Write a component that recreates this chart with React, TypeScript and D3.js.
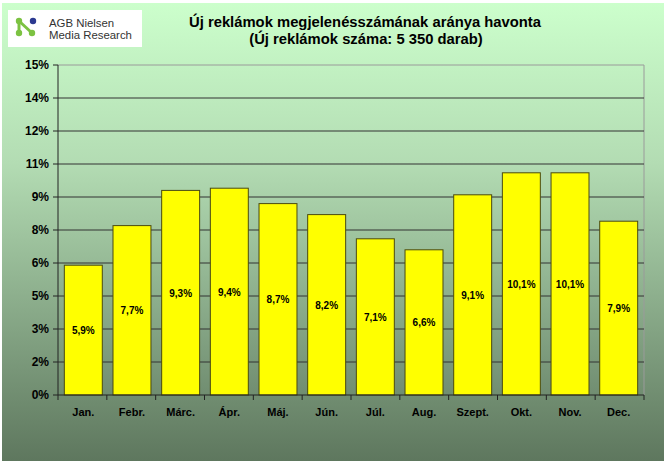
import * as d3 from 'd3'

const months = ['Jan.', 'Febr.', 'Márc.', 'Ápr.', 'Máj.', 'Jún.', 'Júl.', 'Aug.', 'Szept.', 'Okt.', 'Nov.', 'Dec.']
const shares = [5.9, 7.7, 9.3, 9.4, 8.7, 8.2, 7.1, 6.6, 9.1, 10.1, 10.1, 7.9]
const yTickValues = [0, 1.5, 3, 4.5, 6, 7.5, 9, 10.5, 12, 13.5, 15]
const yTickLabels = ['0%', '2%', '3%', '5%', '6%', '8%', '9%', '11%', '12%', '14%', '15%']

const W = 668
const H = 465
const plot = { left: 58, right: 644, top: 65, bottom: 395 }
const font = 'Arial, "Liberation Sans", sans-serif'

export default function App() {
  const x = d3
    .scaleBand<string>()
    .domain(months)
    .range([plot.left, plot.right])
    .paddingInner(0.22)
    .paddingOuter(0.13)
  const y = d3.scaleLinear().domain([0, 15]).range([plot.bottom, plot.top])
  const step = (plot.right - plot.left) / months.length

  return (
    <svg width={W} height={H} style={{ position: 'absolute', left: 0, top: 0 }} fontFamily={font}>
      <defs>
        <linearGradient id="bg" x1="0" y1="0" x2="0" y2="1">
          <stop offset="0" stopColor="#ccffcc" />
          <stop offset="0.35" stopColor="#b3dcb3" />
          <stop offset="1" stopColor="#5e775e" />
        </linearGradient>
      </defs>
      <rect width={W} height={H} fill="#fff" />
      <rect x={2} y={3} width={662} height={458} fill="url(#bg)" />

      {/* logo */}
      <rect x={8} y={10} width={134} height={37} fill="#fff" />
      <g>
        <line x1={19} y1={21} x2={32} y2={33} stroke="#7cc242" strokeWidth={3} />
        <line x1={19} y1={21} x2={19} y2={33} stroke="#7cc242" strokeWidth={3} />
        <circle cx={19} cy={21} r={3.2} fill="#7cc242" />
        <circle cx={19} cy={33} r={3.2} fill="#7cc242" />
        <circle cx={32} cy={33} r={3.2} fill="#7cc242" />
        <circle cx={33} cy={21} r={3.2} fill="#2b3990" />
      </g>
      <text x={49} y={26.5} fontSize={11.4} fill="#333">
        AGB Nielsen
      </text>
      <text x={49} y={39} fontSize={11.4} fill="#333">
        Media Research
      </text>

      {/* title */}
      <text x={365} y={27} textAnchor="middle" fontSize={14.8} fontWeight="bold" fill="#000">
        Új reklámok megjelenésszámának aránya havonta
      </text>
      <text x={366} y={44} textAnchor="middle" fontSize={14.8} fontWeight="bold" fill="#000">
        (Új reklámok száma: 5 350 darab)
      </text>

      {/* plot frame */}
      <path
        d={`M${plot.left},${plot.top}H${plot.right}V${plot.bottom}`}
        fill="none"
        stroke="#9a9a9a"
        strokeWidth={1}
      />

      {/* grid */}
      {yTickValues.slice(1, -1).map((v) => (
        <line key={v} x1={plot.left} x2={plot.right} y1={y(v)} y2={y(v)} stroke="#333" strokeWidth={1} />
      ))}

      {/* bars */}
      {months.map((m, i) => (
        <g key={m}>
          <rect
            x={x(m)}
            y={y(shares[i])}
            width={x.bandwidth()}
            height={y(0) - y(shares[i])}
            fill="#ffff00"
            stroke="#4a4a10"
            strokeWidth={1}
          />
          <text
            x={x(m)! + x.bandwidth() / 2}
            y={(y(shares[i]) + y(0)) / 2 + 4}
            textAnchor="middle"
            fontSize={10}
            fontWeight="bold"
            fill="#000"
          >
            {shares[i].toFixed(1).replace('.', ',')}%
          </text>
          <text
            x={x(m)! + x.bandwidth() / 2}
            y={416}
            textAnchor="middle"
            fontSize={11}
            fontWeight="bold"
            fill="#000"
          >
            {m}
          </text>
        </g>
      ))}

      {/* y axis */}
      <line x1={plot.left} x2={plot.left} y1={plot.top} y2={plot.bottom} stroke="#222" />
      {yTickValues.map((v, i) => (
        <g key={v}>
          <line x1={plot.left - 5} x2={plot.left} y1={y(v)} y2={y(v)} stroke="#222" />
          <text x={49} y={y(v) + 4} textAnchor="end" fontSize={12} fontWeight="bold" fill="#000">
            {yTickLabels[i]}
          </text>
        </g>
      ))}

      {/* x axis */}
      <line x1={plot.left} x2={plot.right} y1={plot.bottom} y2={plot.bottom} stroke="#222" />
      {d3.range(months.length + 1).map((i) => (
        <line
          key={i}
          x1={plot.left + i * step}
          x2={plot.left + i * step}
          y1={plot.bottom}
          y2={plot.bottom + 5}
          stroke="#222"
        />
      ))}
    </svg>
  )
}
